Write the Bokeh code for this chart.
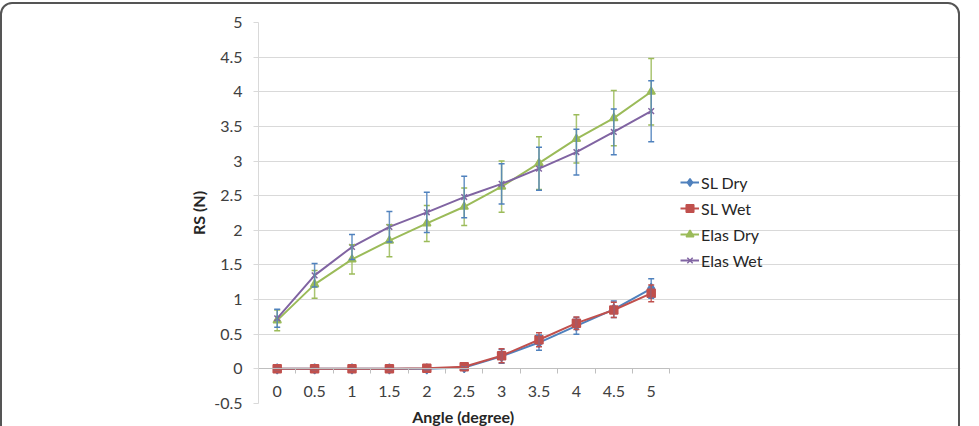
from bokeh.plotting import figure
from bokeh.models import (Range1d, FixedTicker, Whisker, ColumnDataSource, Legend,
                          LegendItem, TeeHead, InlineStyleSheet, Title)
from bokeh.embed import file_html
from bokeh.resources import INLINE

# Rotation angle categories (degrees)
angles = ["0", "0.5", "1", "1.5", "2", "2.5", "3", "3.5", "4", "4.5", "5"]

# Resistance (N) per series, mean and error half-width
sl_dry = [0.0, 0.0, 0.0, 0.0, 0.0, 0.02, 0.18, 0.38, 0.62, 0.86, 1.16]
sl_dry_err = [0.01, 0.01, 0.01, 0.01, 0.01, 0.02, 0.10, 0.11, 0.12, 0.12, 0.14]
sl_wet = [0.0, 0.0, 0.0, 0.0, 0.01, 0.03, 0.19, 0.42, 0.66, 0.85, 1.09]
sl_wet_err = [0.01, 0.01, 0.01, 0.01, 0.01, 0.02, 0.10, 0.10, 0.09, 0.11, 0.12]
elas_dry = [0.70, 1.22, 1.58, 1.85, 2.10, 2.34, 2.63, 2.97, 3.32, 3.62, 4.00]
elas_dry_err = [0.15, 0.20, 0.21, 0.23, 0.26, 0.27, 0.37, 0.38, 0.35, 0.40, 0.48]
elas_wet = [0.73, 1.35, 1.76, 2.05, 2.26, 2.48, 2.67, 2.89, 3.13, 3.42, 3.72]
elas_wet_err = [0.13, 0.17, 0.18, 0.22, 0.29, 0.30, 0.29, 0.31, 0.33, 0.33, 0.44]

y_ticks = [-0.5, 0, 0.5, 1, 1.5, 2, 2.5, 3, 3.5, 4, 4.5, 5]
y_tick_labels = ["-0.5", "0", "0.5", "1", "1.5", "2", "2.5", "3", "3.5", "4", "4.5", "5"]

FONT = "Lato"
FS = "16px"
x_idx = list(range(len(angles)))
n = len(angles)

# plot area spans the legend too; grid and x axis are bounded to the categories
FRAME_L, FRAME_R = 258, 960
CAT_W = 37.4
x_end = -0.5 + (FRAME_R - FRAME_L) / CAT_W

p = figure(width=979, height=426, output_backend="svg", toolbar_location=None,
           x_range=Range1d(-0.5, x_end), y_range=Range1d(-0.5, 5),
           min_border_left=FRAME_L, min_border_right=979 - FRAME_R, min_border_top=22,
           min_border_bottom=23)
p.outline_line_color = None
p.background_fill_color = "white"
p.border_fill_color = "white"

# frame around the whole figure
p.stylesheets = [InlineStyleSheet(css="""
:host::after {
  content: ""; position: absolute; left: 0px; top: 2px; width: 960px; height: 440px;
  box-sizing: border-box; border: 2px solid #555; border-radius: 12px;
  pointer-events: none;
}
""")]

# grid
p.xgrid.visible = False
p.ygrid.ticker = FixedTicker(ticks=y_ticks)
p.ygrid.grid_line_color = "#d9d9d9"
p.ygrid.grid_line_width = 1
p.ygrid.bounds = (-0.5, n - 0.5)

# y axis
ya = p.yaxis[0]
ya.ticker = FixedTicker(ticks=y_ticks)
ya.major_label_overrides = {t: l for t, l in zip(y_ticks, y_tick_labels)}
ya.axis_line_color = "#d9d9d9"
ya.major_tick_line_color = "#d9d9d9"
ya.major_tick_out = 5
ya.major_tick_in = 0
ya.minor_tick_line_color = None
ya.major_label_text_font = FONT
ya.major_label_text_font_size = FS
ya.major_label_text_color = "#404040"
ya.major_label_standoff = 11
ya.axis_label = "RS (N)"
ya.axis_label_text_font = FONT
ya.axis_label_text_font_size = FS
ya.axis_label_text_font_style = "bold"
ya.axis_label_text_color = "#262626"
ya.axis_label_standoff = 3

# x axis crossing at y = 0, ticks between categories
xa = p.xaxis[0]
xa.fixed_location = 0
xa.bounds = (-0.5, n - 0.5)
xa.ticker = FixedTicker(ticks=x_idx, minor_ticks=[i - 0.5 for i in range(n + 1)])
xa.major_label_overrides = {i: a for i, a in zip(x_idx, angles)}
xa.axis_line_color = "#bfbfbf"
xa.major_tick_line_color = None
xa.minor_tick_line_color = "#bfbfbf"
xa.minor_tick_out = 5
xa.minor_tick_in = 0
xa.major_label_text_font = FONT
xa.major_label_text_font_size = FS
xa.major_label_text_color = "#404040"
xa.major_label_standoff = 11

# x axis title, centred under the category span
x_title = Title(text="Angle (degree)", align="left", offset=(n * CAT_W) / 2 - 52,
                standoff=2, text_font=FONT, text_font_size=FS,
                text_font_style="bold", text_color="#262626")
p.add_layout(x_title, "below")

series = [
    ("SL Dry", sl_dry, sl_dry_err, "#4f81bd", "#4f81bd", "diamond", 10),
    ("SL Wet", sl_wet, sl_wet_err, "#c0504d", "#c0504d", "square", 8),
    ("Elas Dry", elas_dry, elas_dry_err, "#9bbb59", "#9bbb59", "triangle", 8),
    ("Elas Wet", elas_wet, elas_wet_err, "#8064a2", "#4f81bd", "x", 8),
]

items = []
for name, vals, errs, col, ecol, marker, size in series:
    src = ColumnDataSource(dict(
        x=x_idx, y=vals,
        lower=[v - e for v, e in zip(vals, errs)],
        upper=[v + e for v, e in zip(vals, errs)],
    ))
    wh = Whisker(source=src, base="x", lower="lower", upper="upper",
                 line_color=ecol, line_width=1.5, line_alpha=0.85, level="glyph",
                 upper_head=TeeHead(size=6, line_color=ecol, line_width=1.5),
                 lower_head=TeeHead(size=6, line_color=ecol, line_width=1.5))
    p.add_layout(wh)
    ln = p.line("x", "y", source=src, line_color=col, line_width=2)
    mk = p.scatter("x", "y", source=src, marker=marker, size=size,
                   fill_color=col, line_color=col, line_width=1.5)
    items.append(LegendItem(label=name, renderers=[ln, mk]))

legend = Legend(items=items, location=(680 - FRAME_L, 133), border_line_color=None,
                background_fill_alpha=0, padding=0, margin=0, spacing=6,
                glyph_width=19, glyph_height=20, label_height=20, label_standoff=2,
                label_text_font=FONT, label_text_font_size=FS,
                label_text_color="#262626")
p.add_layout(legend)

open("out.html", "w").write(file_html(p, INLINE))
